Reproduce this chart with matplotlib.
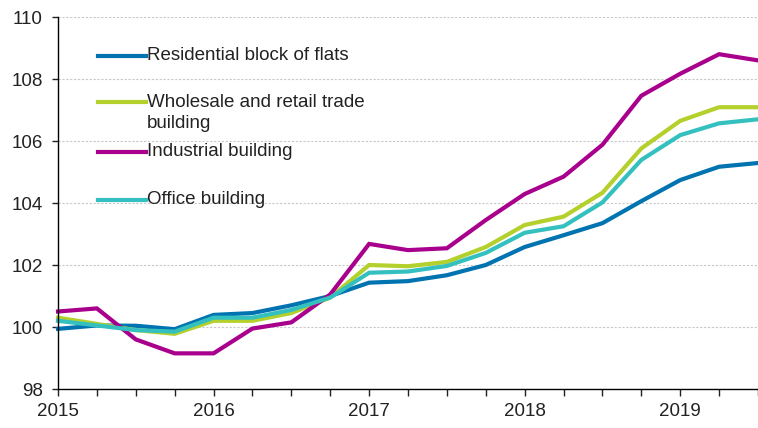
import matplotlib.pyplot as plt
from matplotlib.ticker import MultipleLocator

plt.rcParams['font.family'] = ['Liberation Sans', 'DejaVu Sans']

# quarterly index values, 2015Q1 ... 2019Q3
quarters = list(range(19))
year_labels = ['2015', '2016', '2017', '2018', '2019']

residential = [99.94, 100.05, 100.04, 99.93, 100.39, 100.45, 100.7, 101.0, 101.43,
               101.48, 101.67, 102.0, 102.58, 102.96, 103.35, 104.06, 104.74, 105.17, 105.29]
wholesale = [100.3, 100.1, 99.9, 99.78, 100.2, 100.2, 100.45, 100.95, 102.0,
             101.96, 102.1, 102.58, 103.29, 103.56, 104.33, 105.76, 106.65, 107.09, 107.09]
industrial = [100.5, 100.6, 99.6, 99.15, 99.15, 99.95, 100.15, 101.05, 102.68,
              102.48, 102.54, 103.45, 104.29, 104.85, 105.88, 107.46, 108.17, 108.8, 108.6]
office = [100.2, 100.05, 99.9, 99.85, 100.3, 100.3, 100.55, 100.95, 101.75,
          101.79, 101.97, 102.39, 103.04, 103.25, 104.02, 105.39, 106.19, 106.57, 106.7]

names = ['Residential block of flats', 'Wholesale and retail trade\nbuilding',
         'Industrial building', 'Office building']
colors = ['#0073b0', '#b4d02c', '#a8008c', '#35c0c0']

fig = plt.figure(figsize=(7.58, 4.28), dpi=100)
ax = fig.add_axes([58 / 758, 1 - 389 / 428, 700 / 758, 372 / 428])

lw = 3.0
for series, c in zip([residential, wholesale, industrial, office], colors):
    ax.plot(quarters, series, color=c, lw=lw, solid_joinstyle='miter', clip_on=False)

ax.set_xlim(0, 18)
ax.set_ylim(98, 110)
ax.yaxis.set_major_locator(MultipleLocator(2))
ax.set_xticks(range(0, 19))
ax.set_xticklabels([year_labels[i // 4] if i % 4 == 0 else '' for i in range(19)])

ax.grid(axis='y', color='#c8c8c8', lw=0.8, ls=(0, (2, 1.5)))
ax.set_axisbelow(True)
for s in ['top', 'right']:
    ax.spines[s].set_visible(False)
for s in ['left', 'bottom']:
    ax.spines[s].set_linewidth(1.0)
ax.tick_params(axis='both', labelsize=13.5, colors='#222222', length=4.3, width=1.0)
ax.tick_params(axis='y', pad=6.5)
ax.tick_params(axis='x', length=4.8, pad=5.5)

# legend drawn by hand to keep the uneven spacing
leg_y = [56, 102, 152, 200]
for name, c, y in zip(names, colors, leg_y):
    yy = 1 - (y - 17) / 372
    ax.plot([40 / 700, 88 / 700], [yy, yy], color=c, lw=lw, transform=ax.transAxes)
    if '\n' in name:
        ax.text(89 / 700, 1 - (y - 8 - 17) / 372, name, transform=ax.transAxes, fontsize=13.5,
                va='top', linespacing=1.3, color='#222222')
    else:
        ax.text(89 / 700, yy, name, transform=ax.transAxes, fontsize=13.5, va='center',
                color='#222222')

fig.savefig('out.png', dpi=100)
